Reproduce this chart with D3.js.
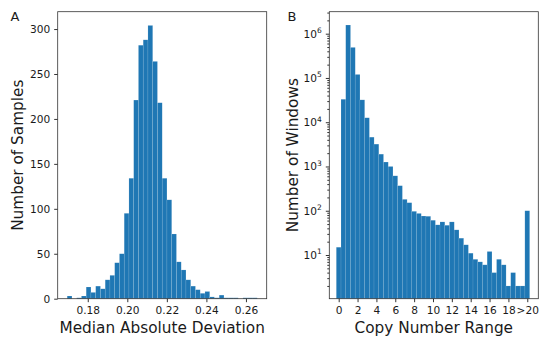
<!DOCTYPE html>
<html>
<head>
<meta charset="utf-8">
<script src="https://cdn.jsdelivr.net/npm/d3@7"></script>
<style>
  body { margin: 0; background: #fff; }
  svg { display: block; font-family: "DejaVu Sans", sans-serif; }
  .tick text { fill: #1a1a1a; }
  .tick line { stroke: #333; }
</style>
</head>
<body>
<svg id="chart" width="550" height="342"></svg>
<script>
// Panel A: median absolute deviation, 40 equal bins over madRange
const madRange = [0.1696, 0.2657];
const madCounts = [3, 0, 1, 3, 13, 7, 14, 11, 21, 26,
                   40, 50, 95, 134, 221, 282, 288, 304, 264, 218,
                   134, 110, 72, 41, 32, 21, 14, 10, 6, 8,
                   2, 1, 4, 1, 1, 1, 0, 1, 1, 1];
const madTicks = [0.18, 0.20, 0.22, 0.24, 0.26];
const sampleTicks = [0, 50, 100, 150, 200, 250, 300];

// Panel B: copy number range, one bin per half step (last bin is >20)
const cnBins = [0, 0.5, 1, 1.5, 2, 2.5, 3, 3.5, 4, 4.5, 5, 5.5, 6, 6.5, 7, 7.5,
                8, 8.5, 9, 9.5, 10, 10.5, 11, 11.5, 12, 12.5, 13, 13.5, 14, 14.5,
                15, 15.5, 16, 16.5, 17, 17.5, 18, 18.5, 19, 19.5, 20];
const cnCounts = [15, 33000, 1570000, 490000, 120000, 32000, 12600, 4600, 3200, 1900,
                  1260, 1000, 615, 368, 181, 152, 97, 87, 76, 75,
                  61, 48, 56, 47, 56, 37, 24, 17, 11, 8,
                  7, 6, 12, 4, 8, 6, 2, 4, 2, 2, 100];
const cnTicks = [0, 2, 4, 6, 8, 10, 12, 14, 16, 18, 20];
const cnTickLabels = ['0', '2', '4', '6', '8', '10', '12', '14', '16', '18', '>20'];
const windowTicks = [1e1, 1e2, 1e3, 1e4, 1e5, 1e6];

const barColor = '#1f77b4';
const font = '"DejaVu Sans", sans-serif';
const svg = d3.select('#chart');

// shared frame geometry
const frameTop = 11.7, frameBottom = 298.7;

// style an axis group the matplotlib way
const styleAxis = g => {
  g.attr('font-family', font).attr('font-size', 10.6);
  g.select('.domain').remove();
};

// ---------- Panel A ----------
const xA = d3.scaleLinear().domain([0.1648, 0.2705]).range([57.7, 266.7]);
const yA = d3.scaleLinear().domain([0, 319.3]).range([frameBottom, frameTop]);
const binW = (madRange[1] - madRange[0]) / madCounts.length;

const gA = svg.append('g');
gA.append('g')
  .selectAll('rect')
  .data(madCounts)
  .join('rect')
    .attr('x', (d, i) => xA(madRange[0] + i * binW))
    .attr('width', (d, i) => xA(madRange[0] + (i + 1) * binW) - xA(madRange[0] + i * binW))
    .attr('y', d => yA(d))
    .attr('height', d => yA(0) - yA(d))
    .attr('fill', barColor)
    .attr('stroke', 'rgba(255,255,255,0.22)')
    .attr('stroke-width', 0.5);

gA.append('g')
  .attr('transform', `translate(0,${frameBottom})`)
  .call(d3.axisBottom(xA).tickValues(madTicks).tickFormat(d3.format('.2f')).tickSize(3.5).tickPadding(4.5))
  .call(styleAxis);

gA.append('g')
  .attr('transform', `translate(${xA.range()[0]},0)`)
  .call(d3.axisLeft(yA).tickValues(sampleTicks).tickSize(3.5).tickPadding(4))
  .call(styleAxis);

gA.append('rect')
  .attr('x', xA.range()[0]).attr('y', frameTop)
  .attr('width', xA.range()[1] - xA.range()[0]).attr('height', frameBottom - frameTop)
  .attr('fill', 'none').attr('stroke', '#333').attr('stroke-width', 0.8);

gA.append('text')
  .attr('x', (xA.range()[0] + xA.range()[1]) / 2).attr('y', 332.7)
  .attr('text-anchor', 'middle').attr('font-size', 15.3).attr('fill', '#1a1a1a')
  .text('Median Absolute Deviation');

gA.append('text')
  .attr('transform', `translate(23.3,${(frameTop + frameBottom) / 2}) rotate(-90)`)
  .attr('text-anchor', 'middle').attr('font-size', 15.3).attr('fill', '#1a1a1a')
  .text('Number of Samples');

gA.append('text')
  .attr('x', 10.5).attr('y', 20.8).attr('font-size', 13).attr('fill', '#1a1a1a')
  .text('A');

// ---------- Panel B ----------
const xB = d3.scaleLinear().domain([-0.997, 21.17]).range([329.3, 538.3]);
const yB = d3.scaleLog().domain([1.03, 3.14e6]).range([frameBottom, frameTop]);
const halfW = 0.255;

const gB = svg.append('g');
gB.append('g')
  .selectAll('rect')
  .data(cnCounts)
  .join('rect')
    .attr('x', (d, i) => xB(cnBins[i] - halfW))
    .attr('width', (d, i) => xB(cnBins[i] + halfW) - xB(cnBins[i] - halfW))
    .attr('y', d => yB(d))
    .attr('height', d => frameBottom - yB(d))
    .attr('fill', barColor)
    .attr('stroke', 'rgba(255,255,255,0.22)')
    .attr('stroke-width', 0.5);

gB.append('g')
  .attr('transform', `translate(0,${frameBottom})`)
  .call(d3.axisBottom(xB).tickValues(cnTicks).tickFormat((d, i) => cnTickLabels[i]).tickSize(3.5).tickPadding(4.5))
  .call(styleAxis);

// minor log ticks
const minorTicks = yB.ticks().filter(v => !windowTicks.includes(v));
gB.append('g')
  .attr('transform', `translate(${xB.range()[0]},0)`)
  .call(d3.axisLeft(yB).tickValues(minorTicks).tickSize(2).tickFormat(''))
  .call(styleAxis);

const yAxisB = gB.append('g')
  .attr('transform', `translate(${xB.range()[0]},0)`)
  .call(d3.axisLeft(yB).tickValues(windowTicks).tickSize(3.5).tickPadding(4))
  .call(styleAxis);

yAxisB.selectAll('.tick text')
  .text(null)
  .call(t => t.append('tspan').text('10'))
  .call(t => t.append('tspan')
    .attr('font-size', 7.5)
    .attr('dy', '-0.6em')
    .text(d => Math.round(Math.log10(d))));

gB.append('rect')
  .attr('x', xB.range()[0]).attr('y', frameTop)
  .attr('width', xB.range()[1] - xB.range()[0]).attr('height', frameBottom - frameTop)
  .attr('fill', 'none').attr('stroke', '#333').attr('stroke-width', 0.8);

gB.append('text')
  .attr('x', (xB.range()[0] + xB.range()[1]) / 2).attr('y', 332.7)
  .attr('text-anchor', 'middle').attr('font-size', 15.3).attr('fill', '#1a1a1a')
  .text('Copy Number Range');

gB.append('text')
  .attr('transform', `translate(298.3,${(frameTop + frameBottom) / 2}) rotate(-90)`)
  .attr('text-anchor', 'middle').attr('font-size', 15.3).attr('fill', '#1a1a1a')
  .text('Number of Windows');

gB.append('text')
  .attr('x', 287.5).attr('y', 20.8).attr('font-size', 13).attr('fill', '#1a1a1a')
  .text('B');
</script>
</body>
</html>
